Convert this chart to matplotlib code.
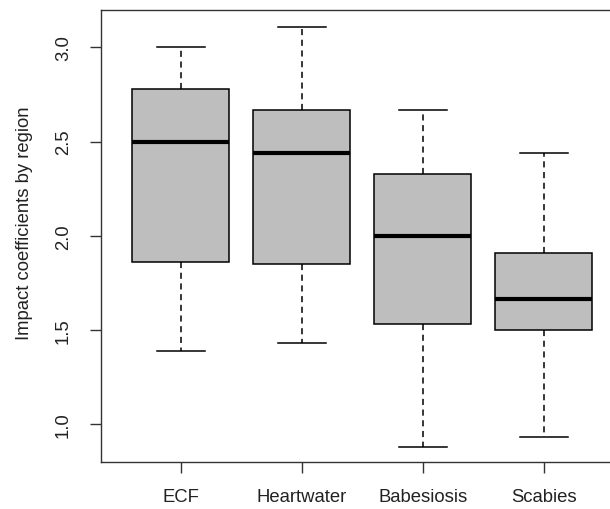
import matplotlib
matplotlib.use("Agg")
import matplotlib.pyplot as plt

# values (R style boxplot)
diseases = ["ECF", "Heartwater", "Babesiosis", "Scabies"]
whisker_low = [1.39, 1.43, 0.88, 0.93]
q1 = [1.86, 1.85, 1.53, 1.50]
median = [2.50, 2.44, 2.00, 1.665]
q3 = [2.78, 2.67, 2.33, 1.91]
whisker_high = [3.00, 3.11, 2.67, 2.44]

plt.rcParams['font.family'] = ['Liberation Sans', 'DejaVu Sans']

fig = plt.figure(figsize=(6.1, 5.1), dpi=100)
# the right part of the frame is cut off in the reference
ax = fig.add_axes([0.1656, 0.0922, 0.8567, 0.8868])

stats = []
for i in range(len(diseases)):
    stats.append({
        "label": diseases[i],
        "whislo": whisker_low[i],
        "q1": q1[i],
        "med": median[i],
        "q3": q3[i],
        "whishi": whisker_high[i],
        "fliers": [],
    })

ax.bxp(stats, positions=[1, 2, 3, 4], widths=0.8, patch_artist=True,
       showfliers=False,
       boxprops=dict(facecolor="#bebebe", edgecolor="black", linewidth=1.1),
       medianprops=dict(color="black", linewidth=3, solid_capstyle="butt"),
       whiskerprops=dict(color="black", linewidth=1.1, linestyle=(0, (4, 3))),
       capprops=dict(color="black", linewidth=1.1),
       capwidths=0.4)

ax.set_xlim(0.34, 4.66)
ax.set_ylim(0.80, 3.20)
ax.set_yticks([1.0, 1.5, 2.0, 2.5, 3.0])
ax.set_yticklabels(["1.0", "1.5", "2.0", "2.5", "3.0"], rotation=90, va="center")
ax.set_xticks([1, 2, 3, 4])
ax.set_xticklabels(diseases)

for s in ax.spines.values():
    s.set_color("#333333")
    s.set_linewidth(1.0)

ax.tick_params(axis="both", length=8, width=1.0, color="#333333",
               labelsize=13.3, labelcolor="#222222")
ax.tick_params(axis="y", pad=13)
ax.tick_params(axis="x", pad=11)

ax.set_ylabel("Impact coefficients by region", fontsize=13.3, color="#222222")
ax.yaxis.set_label_coords(-0.130, 0.53)

fig.savefig("out.png", dpi=100)
